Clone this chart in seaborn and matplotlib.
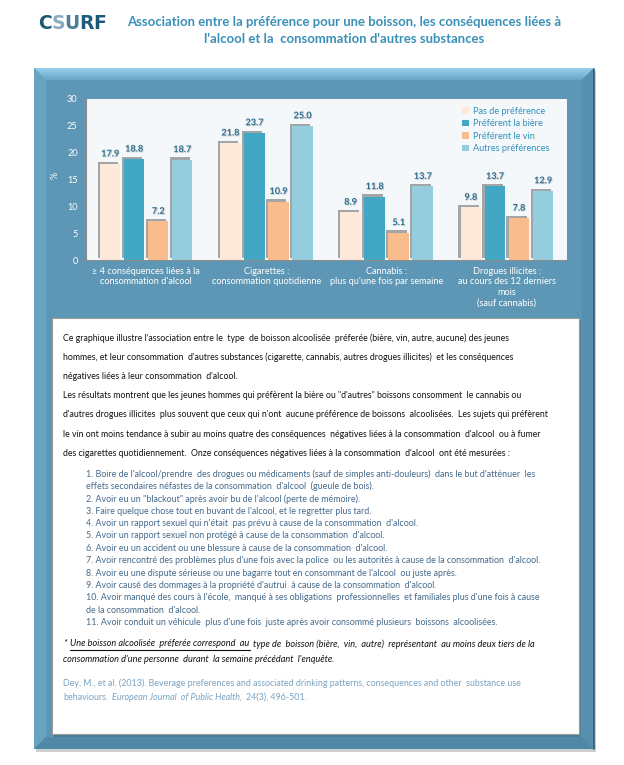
import numpy as np
import pandas as pd
import seaborn as sns
import matplotlib.pyplot as plt
import matplotlib.patheffects as pe
from matplotlib.patches import Polygon, Rectangle
from matplotlib.colors import LinearSegmentedColormap

## Données

categories = ["≥ 4 conséquences liées à la\nconsommation d'alcool",
              "Cigarettes :\nconsommation quotidienne",
              "Cannabis :\nplus qu'une fois par semaine",
              "Drogues illicites :\nau cours des 12 derniers\nmois\n(sauf cannabis)"]
preferences = ["Pas de préférence", "Préférent la bière", "Préférent le vin", "Autres préférences"]
pas_pref = [17.9, 21.8, 8.9, 9.8]
biere = [18.8, 23.7, 11.8, 13.7]
vin = [7.2, 10.9, 5.1, 7.8]
autres = [18.7, 25.0, 13.7, 12.9]
yticks = [0, 5, 10, 15, 20, 25, 30]

titre = ["Association entre la préférence pour une boisson, les conséquences liées à",
         "l'alcool et la  consommation d'autres substances"]

paragraphe = [
    "Ce graphique illustre l'association entre le  type  de boisson alcoolisée  préferée (bière, vin, autre, aucune) des jeunes",
    "hommes, et leur consommation  d'autres substances (cigarette, cannabis, autres drogues illicites)  et les conséquences",
    "négatives liées à leur consommation  d'alcool.",
    "Les résultats montrent que les jeunes hommes qui préfèrent la bière ou \"d'autres\" boissons consomment  le cannabis ou",
    "d'autres drogues illicites  plus souvent que ceux qui n'ont  aucune préférence de boissons  alcoolisées.  Les sujets qui préfèrent",
    "le vin ont moins tendance à subir au moins quatre des conséquences  négatives liées à la consommation  d'alcool  ou à fumer",
    "des cigarettes quotidiennement.  Onze conséquences négatives liées à la consommation  d'alcool  ont été mesurées :",
]

liste = [
    "1. Boire de l'alcool/prendre  des drogues ou médicaments (sauf de simples anti-douleurs)  dans le but d'atténuer  les",
    "effets secondaires néfastes de la consommation  d'alcool  (gueule de bois).",
    "2. Avoir eu un \"blackout\" après avoir bu de l'alcool (perte de mémoire).",
    "3. Faire quelque chose tout en buvant de l'alcool, et le regretter plus tard.",
    "4. Avoir un rapport sexuel qui n'était  pas prévu à cause de la consommation  d'alcool.",
    "5. Avoir un rapport sexuel non protégé à cause de la consommation  d'alcool.",
    "6. Avoir eu un accident ou une blessure à cause de la consommation  d'alcool.",
    "7. Avoir rencontré des problèmes plus d'une fois avec la police  ou les autorités à cause de la consommation  d'alcool.",
    "8. Avoir eu une dispute sérieuse ou une bagarre tout en consommant de l'alcool  ou juste après.",
    "9. Avoir causé des dommages à la propriété d'autrui  à cause de la consommation  d'alcool.",
    "10. Avoir manqué des cours à l'école,  manqué à ses obligations  professionnelles  et familiales plus d'une fois à cause",
    "de la consommation  d'alcool.",
    "11. Avoir conduit un véhicule  plus d'une fois  juste après avoir consommé plusieurs  boissons  alcoolisées.",
]

note_souligne = "Une boisson alcoolisée  préferée correspond  au"
note_suite = "type de  boisson (bière,  vin,  autre)  représentant  au moins deux tiers de la"
note_ligne2 = "consommation d'une personne  durant  la semaine précédant  l'enquête."

ref_ligne1 = "Dey, M., et al. (2013). Beverage preferences and associated drinking patterns, consequences and other  substance use"
ref_debut = "behaviours."
ref_journal = "European Journal  of Public Health,"
ref_fin = "24(3), 496-501."

couleurs = ["#fde8da", "#42a7c4", "#f9bd8d", "#94cddd"]

## Mise en forme

sns.set_theme(style="white")
plt.rcParams['font.family'] = ['Lato', 'DejaVu Sans']

fig = plt.figure(figsize=(6.24, 7.65), dpi=100)
renderer = fig.canvas.get_renderer()

bg = fig.add_axes([0, 0, 1, 1], zorder=0)
bg.axis('off')


def largeur(txt, **kw):
    t = bg.text(0, 0, txt, **kw)
    w = t.get_window_extent(renderer).width
    t.remove()
    return w


def taille(txt, cible, **kw):
    return 10 * cible / largeur(txt, fontsize=10, **kw)


# cadre bleu
bg.add_patch(Rectangle((36, 71), 560, 681, fc='#cfcfcf', ec='none'))
bg.add_patch(Rectangle((34, 68), 560, 681, fc='#5d97b5', ec='none'))
haut = Polygon([(34, 68), (594, 68), (582, 80), (46, 80)], closed=True, fc='none', ec='none')
bg.add_patch(haut)
degrade = LinearSegmentedColormap.from_list('bev', ['#98cfec', '#6aa6c5'])
im = bg.imshow(np.linspace(0, 1, 30).reshape(-1, 1), cmap=degrade, extent=[34, 594, 80, 68],
               aspect='auto', zorder=1)
im.set_clip_path(haut)
bg.add_patch(Polygon([(34, 68), (46, 80), (46, 737), (34, 749)], closed=True, fc='#68a3c1', ec='none'))
bg.add_patch(Polygon([(594, 68), (594, 749), (582, 737), (582, 80)], closed=True, fc='#5690ae', ec='none'))
bg.add_patch(Polygon([(34, 749), (594, 749), (582, 737), (46, 737)], closed=True, fc='#4f89a7', ec='none'))
bg.plot([593.5, 593.5], [69, 749], color='#2d5c74', lw=1.2)

# encadré texte
bg.add_patch(Rectangle((54, 320), 527, 417, fc='#3c6a82', ec='none', alpha=0.6, zorder=2))
bg.add_patch(Rectangle((52, 318), 527, 416, fc='white', ec='#9c9c9c', lw=0.8, zorder=3))

bg.set_xlim(0, 624)
bg.set_ylim(765, 0)

# logo
logo_kw = dict(fontsize=13.5, fontweight='heavy', family='DejaVu Sans', va='center', ha='left')
x = 38
for lettre, coul in [("C", "#1c5878"), ("S", "#8aabc2"), ("U", "#4d7f9c"), ("R", "#1f5d7e"), ("F", "#1c5878")]:
    t = bg.text(x, 23, lettre, color=coul, **logo_kw)
    x += t.get_window_extent(renderer).width - 0.5

# titre
fs_titre = taille(titre[0], 433, fontweight='bold')
bg.text(344, 22, titre[0], fontsize=fs_titre, fontweight='bold', color='#3a90b9', ha='center', va='center')
bg.text(344, 39, titre[1], fontsize=fs_titre, fontweight='bold', color='#3a90b9', ha='center', va='center')

# paragraphe
fs_par = taille(paragraphe[4], 487)
for i, ligne in enumerate(paragraphe):
    bg.text(63, 338 + 19.2 * i, ligne, fontsize=fs_par, color='#111111', va='center', zorder=4)

# liste
fs_liste = taille(liste[7], 454)
for i, ligne in enumerate(liste):
    bg.text(86, 474 + 12.4 * i, ligne, fontsize=fs_liste, color='#456a8b', va='center', zorder=4)

# note
fs_note = taille("* " + note_souligne + " " + note_suite, 472, style='italic')
espace = largeur(" ", fontsize=fs_note, style='italic') + 1.5
t = bg.text(63, 644, "*", fontsize=fs_note, style='italic', color='#111111', va='center', zorder=4)
x = 63 + t.get_window_extent(renderer).width + espace
t = bg.text(x, 644, note_souligne, fontsize=fs_note, style='italic', color='#111111', va='center', zorder=4)
w = t.get_window_extent(renderer).width
bg.plot([x, x + w], [649.5, 649.5], color='#111111', lw=0.8, zorder=4)
bg.text(x + w + espace, 644, note_suite, fontsize=fs_note, style='italic', color='#111111', va='center', zorder=4)
bg.text(63, 659, note_ligne2, fontsize=fs_note, style='italic', color='#111111', va='center', zorder=4)

# référence
fs_ref = taille(ref_ligne1, 461)
espace = largeur(" ", fontsize=fs_ref) + 1.5
bg.text(63, 683, ref_ligne1, fontsize=fs_ref, color='#7aa3c0', va='center', zorder=4)
x = 63
for morceau, style in [(ref_debut, 'normal'), (ref_journal, 'italic'), (ref_fin, 'normal')]:
    t = bg.text(x, 697, morceau, fontsize=fs_ref, style=style, color='#7aa3c0', va='center', zorder=4)
    x += t.get_window_extent(renderer).width + espace

# label %
bg.text(55, 175, "%", fontsize=6.5, color='white', rotation=90, ha='center', va='center')

## Graphique

df = pd.DataFrame({
    'categorie': np.repeat(categories, 4),
    'preference': preferences * 4,
    'valeur': np.ravel(np.column_stack([pas_pref, biere, vin, autres])),
})

ax = fig.add_axes([86 / 624, 1 - 260 / 765, 481 / 624, 161 / 765], zorder=2)
ax.set_facecolor('#f4f8fb')

sns.barplot(data=df, x='categorie', y='valeur', hue='preference', hue_order=preferences,
            palette=couleurs, saturation=1, width=0.8, gap=0.15, ax=ax, edgecolor='none')

ax.set_xlim(-0.5, 3.5)
ax.set_ylim(0, 30)
ax.set_yticks(yticks)
ax.set_xticks(range(len(categories)))
ax.set_xticklabels(categories)
ax.set_xticks([-0.5, 0.5, 1.5, 2.5, 3.5], minor=True)
ax.tick_params(axis='x', which='major', length=0, pad=5, labelsize=6.6, labelcolor='white')
ax.tick_params(axis='x', which='minor', length=4, width=0.8, color='#8c8c8c', direction='out')
ax.tick_params(axis='y', length=3, width=0.8, color='#8c8c8c', labelsize=6.6, labelcolor='white', pad=3, left=True)
ax.set_xlabel('')
ax.set_ylabel('')
for s in ['top', 'right']:
    ax.spines[s].set_visible(False)
for s in ['left', 'bottom']:
    ax.spines[s].set_color('#8c8c8c')
    ax.spines[s].set_linewidth(0.8)

leg = ax.legend(loc='upper left', bbox_to_anchor=(0.775, 0.975), frameon=False, fontsize=6.6,
                handlelength=0.75, handleheight=0.75, handletextpad=0.35, labelspacing=0.38,
                labelcolor='#2f8fba', borderaxespad=0)

# ombres des barres (après la légende pour ne pas la toucher)
for barre in ax.patches:
    barre.set_path_effects([pe.SimplePatchShadow(offset=(-1.6, 1.6), shadow_rgbFace='#8a8a8a', alpha=0.75),
                            pe.Normal()])

for cont in ax.containers:
    lab = ax.bar_label(cont, fmt='%.1f', padding=4, fontsize=6.6, fontweight='bold', color='#2e6e8e')
    for l in lab:
        l.set_path_effects([pe.withSimplePatchShadow(offset=(0.6, -0.6), shadow_rgbFace='#9a9a9a', alpha=0.5)])

for h in leg.get_patches():
    h.set_path_effects([])

plt.savefig('out.png', dpi=100)
